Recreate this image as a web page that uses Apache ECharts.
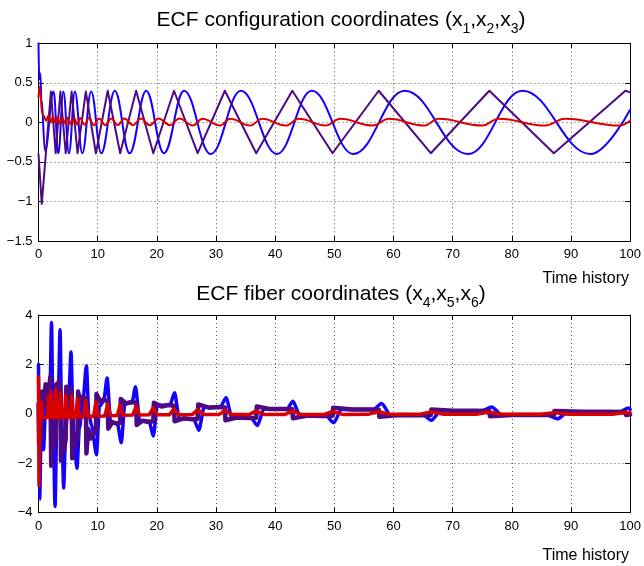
<!DOCTYPE html>
<html>
<head>
<meta charset="utf-8">
<script src="https://cdn.jsdelivr.net/npm/echarts@6/dist/echarts.min.js"></script>
<style>
html,body{margin:0;padding:0;background:#fff;}
#c{width:644px;height:566px;}
</style>
</head>
<body>
<div id="c"></div>
<script>
// ---- data (time, value) ----
var cfgBlue = [[0,1.0],[0.12,0.55],[0.3,0.62],[0.5,0.3],[1.1,-0.36],[2.55,0.39],[3.35,-0.39],[4.2,0.39],[5.15,-0.39],[6.15,0.39],[7.4,-0.39],[8.9,0.39],[10.6,-0.39],[12.9,0.4],[15.4,-0.39],[18.2,0.4],[21.2,-0.39],[24.6,0.4],[29.1,-0.4],[34.2,0.4],[40.3,-0.4],[46.2,0.4],[53.2,-0.4],[61.9,0.4],[72.6,-0.4],[81.8,0.4],[93.3,-0.4],[100,0.16]];

var cfgPurple = [[0,-0.4],[0.55,-1.03],[2.1,0.39],[2.9,-0.39],[3.7,0.39],[4.6,-0.39],[5.6,0.39],[6.6,-0.39],[8.0,0.39],[9.7,-0.39],[11.7,0.4],[13.8,-0.39],[16.5,0.4],[19.4,-0.39],[22.9,0.4],[26.9,-0.39],[31.5,0.4],[36.8,-0.39],[42.9,0.4],[49.7,-0.39],[57.5,0.4],[66.3,-0.39],[76.2,0.4],[87.1,-0.39],[99.2,0.4],[100,0.38]];

var cfgRed = [[0,0.32],[0.15,0.45],[0.3,0.38],[0.6,0.12],[0.9,0.08],[1.3,0.02],[1.7,0.09],[2.1,0.0],[2.4,0.07],[2.9,-0.01],[3.2,0.07],[3.7,-0.02],[4.0,0.06],[4.6,-0.02],[4.9,0.06],[5.6,-0.03],[6.0,0.06],[6.6,-0.03],[7.0,0.055],[7.8,-0.03],[8.5,0.055],[9.4,-0.035],[10.2,0.05],[11.3,-0.035],[12.3,0.05],[13.4,-0.035],[14.5,0.05],[16.0,-0.035],[17.3,0.05],[18.8,-0.035],[20.3,0.05],[22.2,-0.035],[23.8,0.05],[26.1,-0.04],[27.7,0.046],[30.7,-0.04],[32.4,0.046],[35.8,-0.04],[37.8,0.046],[41.8,-0.04],[44.0,0.045],[48.5,-0.04],[51.0,0.045],[56.5,-0.04],[59.2,0.045],[65.2,-0.04],[67.6,0.045],[75.0,-0.04],[77.8,0.045],[85.6,-0.04],[89.0,0.045],[98.2,-0.04],[100,0.02]];

var fibBlue = [[0,2.0],[0.2,-3.45],[0.45,-0.6],[0.85,-1.45],[1.2,0.3],[1.6,0.5],[1.95,1.0],[2.2,3.7],[2.45,0.0],[2.8,-3.75],[3.1,-0.3],[3.35,0.8],[3.65,3.4],[3.9,0.0],[4.25,-3.0],[4.6,-0.6],[5.1,0.6],[5.5,2.5],[5.8,0.2],[6.0,-1.0],[6.5,-2.2],[6.9,-0.6],[7.5,0.5],[8.1,1.95],[8.5,0.0],[9.0,-0.5],[9.8,-1.65],[10.3,0.3],[11.0,0.5],[11.6,1.45],[12.2,-0.36],[13.3,-0.36],[14.0,-1.17],[14.6,0.45],[15.8,0.45],[16.4,1.1],[17.1,-0.3],[18.7,-0.3],[19.4,-0.9],[20.1,0.35],[22.2,0.35],[23.0,0.85],[23.8,-0.2],[26.2,-0.2],[27.1,-0.66],[28.0,0.27],[30.7,0.27],[31.7,0.65],[32.7,-0.16],[35.9,-0.16],[37.0,-0.47],[38.1,0.2],[42.0,0.2],[43.0,0.51],[44.2,-0.08],[48.6,-0.08],[49.9,-0.36],[51.2,0.18],[56.6,0.18],[58.0,0.42],[59.5,-0.05],[65.0,-0.05],[66.4,-0.26],[68.0,0.13],[75.0,0.13],[76.6,0.28],[78.3,-0.05],[86.0,-0.05],[87.7,-0.2],[89.5,0.08],[98.2,0.08],[99.7,0.24],[100,0.18]];

var fibPurple = [[0,0.4],[0.1,-1.2],[0.3,-0.6],[0.5,-1.0],[0.6,0.9],[0.9,0.3],[1.2,1.2],[1.5,0.5],[1.8,1.0],[2.0,1.5],[2.15,-2.1],[2.4,-0.8],[2.6,-1.4],[2.9,-1.0],[3.0,1.2],[3.2,0.5],[3.4,1.3],[3.7,0.9],[3.8,-1.9],[4.0,-0.9],[4.3,-1.5],[4.6,-1.0],[4.7,1.1],[4.95,0.5],[5.2,1.05],[5.6,0.8],[5.7,-1.8],[5.9,-0.8],[6.2,-1.3],[6.6,-0.9],[6.7,0.9],[7.0,0.4],[7.4,0.7],[8.0,0.6],[8.1,-1.6],[8.4,-0.6],[8.8,-1.0],[9.7,-0.7],[9.8,0.8],[10.4,0.5],[11.0,0.58],[11.7,0.5],[11.8,-0.6],[12.5,-0.33],[13.2,-0.4],[13.8,-0.36],[13.9,0.6],[14.8,0.42],[15.7,0.48],[16.5,0.45],[16.6,-0.45],[17.6,-0.28],[18.6,-0.33],[19.4,-0.3],[19.5,0.45],[20.8,0.3],[22.0,0.36],[22.9,0.33],[23.0,-0.3],[24.5,-0.18],[26.0,-0.22],[26.9,-0.2],[27.0,0.38],[28.8,0.25],[30.5,0.28],[31.5,0.26],[31.6,-0.26],[33.5,-0.15],[35.5,-0.17],[36.8,-0.16],[36.9,0.3],[39.0,0.2],[41.5,0.2],[42.9,0.19],[43.0,-0.18],[45.5,-0.07],[48.0,-0.09],[49.7,-0.08],[49.8,0.25],[53.0,0.18],[56.0,0.18],[57.5,0.17],[57.6,-0.12],[61.0,-0.05],[64.5,-0.06],[66.3,-0.05],[66.4,0.18],[70.0,0.13],[74.0,0.13],[76.2,0.12],[76.3,-0.1],[80.0,-0.05],[84.0,-0.05],[87.1,-0.05],[87.2,0.12],[92.0,0.08],[96.0,0.08],[99.2,0.07],[99.3,-0.05],[100,-0.03]];

var fibRed = [[0,1.5],[0.08,-2.9],[0.2,-0.5],[0.4,-0.15],[0.55,0.45],[0.7,-0.15],[1.5,-0.15],[1.7,0.7],[1.9,-0.15],[2.1,0.9],[2.3,-0.15],[2.7,-0.15],[2.9,1.0],[3.1,-0.15],[3.5,-0.15],[3.7,0.85],[3.95,-0.15],[4.35,-0.15],[4.6,0.75],[4.85,-0.15],[5.3,-0.15],[5.6,0.72],[5.9,-0.15],[6.3,-0.15],[6.6,0.62],[6.95,-0.14],[7.6,-0.13],[8.0,0.55],[8.4,-0.12],[9.3,-0.11],[9.7,0.48],[10.1,-0.1],[11.2,-0.09],[11.7,0.4],[12.2,-0.08],[13.3,-0.07],[13.8,0.35],[14.3,-0.06],[15.9,-0.05],[16.5,0.31],[17.1,-0.05],[18.7,-0.04],[19.4,0.25],[20.1,-0.04],[22.1,-0.04],[22.9,0.2],[23.7,-0.04],[26.0,-0.03],[26.9,0.17],[27.9,-0.03],[30.5,-0.03],[31.5,0.14],[32.7,-0.03],[35.6,-0.03],[36.8,0.12],[38.2,-0.03],[41.6,-0.03],[42.9,0.12],[44.5,-0.03],[48.2,-0.03],[49.7,0.1],[51.5,-0.03],[55.7,-0.02],[57.5,0.09],[59.5,-0.02],[64.3,-0.02],[66.3,0.08],[68.5,-0.02],[74.0,-0.02],[76.2,0.07],[78.5,-0.02],[84.8,-0.02],[87.1,0.05],[89.5,-0.02],[97.0,-0.02],[99.2,0.05],[100,0.03]];

// ---- chart ----
var FONT = '"Liberation Sans", Arial, Helvetica, sans-serif';
var C_BLUE = '#1400ff', C_PURPLE = '#4e0a82', C_RED = '#d90000';

function fmt(v){ return String(v).replace('-', '\u2212'); }

function xAxes(gi){
  return [{
    type:'value', gridIndex:gi, min:0, max:100, interval:10, position:'bottom',
    axisLine:{show:true,onZero:false,lineStyle:{color:'#000',width:1}},
    axisTick:{show:true,inside:true,length:5,lineStyle:{color:'#000'}},
    axisLabel:{color:'#000',fontSize:13,fontFamily:FONT,margin:7,showMinLabel:true,showMaxLabel:true},
    splitLine:{show:true,lineStyle:{color:'#555',type:[1,3],width:1}}
  },{
    type:'value', gridIndex:gi, min:0, max:100, interval:10, position:'top',
    axisLine:{show:true,onZero:false,lineStyle:{color:'#000',width:1}},
    axisTick:{show:true,inside:true,length:5,lineStyle:{color:'#000'}},
    axisLabel:{show:false}, splitLine:{show:false}
  }];
}
function yAxes(gi,mn,mx,iv){
  return [{
    type:'value', gridIndex:gi, min:mn, max:mx, interval:iv, position:'left',
    axisLine:{show:true,onZero:false,lineStyle:{color:'#000',width:1}},
    axisTick:{show:true,inside:true,length:5,lineStyle:{color:'#000'}},
    axisLabel:{color:'#000',fontSize:13,fontFamily:FONT,margin:6,formatter:fmt,showMinLabel:true,showMaxLabel:true},
    splitLine:{show:true,lineStyle:{color:'#555',type:[1,3],width:1}}
  },{
    type:'value', gridIndex:gi, min:mn, max:mx, interval:iv, position:'right',
    axisLine:{show:true,onZero:false,lineStyle:{color:'#000',width:1}},
    axisTick:{show:true,inside:true,length:5,lineStyle:{color:'#000'}},
    axisLabel:{show:false}, splitLine:{show:false}
  }];
}

function ser(data, color, xi, yi, w, smooth){
  return {type:'line', data:data, xAxisIndex:xi, yAxisIndex:yi, showSymbol:false, symbol:'none',
    smooth:smooth, smoothMonotone:'x', lineStyle:{color:color,width:w,join:'round',cap:'round'}, itemStyle:{color:color}, animation:false, z:2};
}

var chart = echarts.init(document.getElementById('c'), null, {renderer:'canvas'});
var titleRich = {
  a:{fontSize:21,fontFamily:FONT,color:'#000'},
  s:{fontSize:14,fontFamily:FONT,color:'#000',padding:[18,0,0,0]}
};
chart.setOption({
  animation:false,
  backgroundColor:'#fff',
  grid:[
    {left:38.5,top:43.3,width:595,height:197.7,containLabel:false},
    {left:38.5,top:315,width:595,height:197.7,containLabel:false}
  ],
  xAxis: xAxes(0).concat(xAxes(1)),
  yAxis: yAxes(0,-1.5,1,0.5).concat(yAxes(1,-4,4,2)),
  series:[
    ser(cfgBlue,C_BLUE,0,0,2,0.4),
    ser(cfgPurple,C_PURPLE,0,0,2,false),
    ser(cfgRed,C_RED,0,0,2,0.4),
    ser(fibBlue,C_BLUE,2,2,3.5,0.25),
    ser(fibPurple,C_PURPLE,2,2,4.5,false),
    ser(fibRed,C_RED,2,2,3.5,false)
  ],
  graphic:[
    {type:'text',x:341,y:20,style:{text:'{a|ECF configuration coordinates (x}{s|1}{a|,x}{s|2}{a|,x}{s|3}{a|)}',rich:titleRich,align:'center',verticalAlign:'middle'}},
    {type:'text',x:341,y:294,style:{text:'{a|ECF fiber coordinates (x}{s|4}{a|,x}{s|5}{a|,x}{s|6}{a|)}',rich:titleRich,align:'center',verticalAlign:'middle'}},
    {type:'text',x:629,y:271,style:{text:'Time history',fontSize:16,fontFamily:FONT,fill:'#000',align:'right',verticalAlign:'top'}},
    {type:'text',x:629,y:548,style:{text:'Time history',fontSize:16,fontFamily:FONT,fill:'#000',align:'right',verticalAlign:'top'}}
  ]
});
</script>
</body>
</html>
